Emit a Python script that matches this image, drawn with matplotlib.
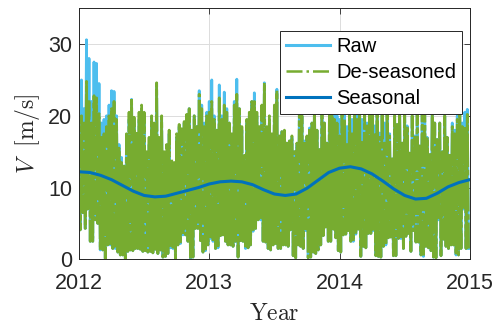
import numpy as np
import matplotlib
matplotlib.use("Agg")
import matplotlib.pyplot as plt

# weekly peak values of the raw wind speed
raw_hi_2012 = [15.5, 25, 21, 30.6, 28, 22, 27.5, 27.3, 24.5, 19, 19.5, 20, 21.5, 23.5, 23.4, 20, 16, 14.2, 13, 17,
               19.5, 22.3, 19, 17, 19.5, 21, 19.5, 14, 16, 19.5, 18, 24.5, 16, 19.5, 14, 15, 17.5, 13.5, 13, 17,
               18.5, 18, 19, 20, 21, 18, 20, 18.5, 23.5, 21.5, 19, 20.5]
raw_hi_2013 = [22, 25, 20, 18, 24.3, 20, 23.3, 21, 19, 17, 22, 25.1, 21, 18, 14, 19, 20, 22, 23.2, 20,
               18, 21, 24.6, 18, 19.5, 17, 21, 23.7, 17.1, 17.8, 17.8, 16.2, 16.5, 17, 15, 16, 22, 20, 16.5, 17,
               18.3, 19, 22, 18, 15.3, 22, 19, 16.2, 21, 23, 21, 20]
raw_hi_2014 = [19.5, 23, 21, 18.5, 22, 19.5, 23, 21, 23, 19.5, 22, 19, 21, 22, 18.6, 21, 17.6, 22, 19, 21,
               17.5, 14, 20, 18.8, 21, 16.2, 21, 18.6, 14.8, 20, 17.2, 21, 15.8, 21.5, 22, 17, 14.6, 21.5, 19, 16.7,
               19, 15, 20, 17, 14.5, 19, 18, 20, 22, 19, 20.5, 20.9]

# weekly peak values of the de-seasoned series
des_hi_2012 = [14, 20, 19, 24.8, 22, 19, 22.8, 22.5, 20.3, 17, 17.5, 18.5, 20, 21, 22, 19.5, 15.5, 13.5, 13, 17.5,
               20.5, 22.5, 19.8, 17.8, 20.5, 21.5, 20.5, 15, 17, 20, 19, 24.6, 17, 20, 15, 16, 18, 14, 13.5, 17.5,
               18.8, 18.2, 19.2, 20.2, 21, 18, 20, 18.5, 23, 21, 18.5, 20]
des_hi_2013 = [20.5, 22, 19.5, 18, 22.5, 19.5, 21.5, 20.5, 19, 17.5, 21.5, 23, 21, 18.5, 14.5, 19.5, 20.5, 22, 22, 20.5,
               18.5, 21.5, 24.6, 18.5, 20, 17.5, 21.5, 23.5, 17.2, 17.8, 18, 16.2, 16.5, 17.2, 15, 16.2, 22, 20, 16.5, 17.2,
               18.3, 19, 22, 18, 15.3, 22, 19, 16.2, 21, 22, 19.5, 19]
des_hi_2014 = [17.2, 21, 19.5, 16, 20.5, 17.5, 21, 19.5, 22, 16.6, 21, 18.6, 20.5, 21.5, 17.6, 20.5, 17, 21.5, 16.2, 20.5,
               17.2, 14, 20, 18.8, 21, 16.2, 21, 18.6, 14.8, 20, 17.2, 21, 15.8, 21.5, 22, 17, 14.6, 21.5, 19, 16.7,
               19, 15, 20, 17, 14.5, 18.5, 17.5, 19.5, 21, 18.5, 18.5, 20.2]

# weekly low values (both series)
lo_2012 = [4.1, 6.5, 4.3, 7, 2.5, 2.5, 5.5, 5, 1.3, 1.3, 0.1, 2, 2, 1.5, 1.5, 1, 0.6, 0.6, 0.1, 1.1,
           1.3, 1.2, 1.5, 1.5, 1.4, 1.1, 1.2, 1, 1.1, 0.9, 1.4, 0.8, 1.3, 0.3, 0.4, 0.8, 1.6, 1.5, 0.1, 2,
           2.2, 3.4, 3.4, 2.5, 0.1, 0.3, 4.3, 4.3, 2.6, 1, 1.2, 2]
lo_2013 = [2.9, 2.5, 1.5, 1.6, 3.3, 3.4, 2.5, 2, 2, 1.8, 2.5, 0.3, 2.6, 2.5, 1.5, 1.6, 2, 3.9, 4.3, 5.5,
           5.5, 2.5, 2.4, 1.5, 1.3, 2, 2.2, 1.5, 1.5, 2, 2, 1.8, 4.1, 0.5, 0.2, 2, 1.8, 1.5, 4, 0.2,
           0.3, 1, 0.8, 1.3, 2, 3.3, 4.5, 2.5, 2.5, 4.2, 3, 1.2]
lo_2014 = [1, 3.4, 3.5, 4, 2.5, 2.5, 3.5, 4.2, 0.4, 1.8, 1.6, 3.6, 3.6, 4, 0.5, 0.4, 0.3, 1.8, 2, 3,
           3.1, 0.5, 0.5, 2.9, 2.9, 1.5, 3.2, 3.6, 1.1, 4, 2.4, 2.4, 0.6, 0.4, 1.8, 1.6, 1.2, 0.3, 0.2, 5.5,
           0.5, 2.8, 1.8, 1.5, 2, 2, 0.6, 0.6, 1.5, 7, 1.5, 1.5]

# monthly seasonal component, Jan 2012 .. Jan 2015
seasonal = [12.2, 12.1, 11.7, 11.1, 10.3, 9.5, 8.9, 8.7, 8.8, 9.2, 9.6, 10.0,
            10.5, 10.8, 10.9, 10.8, 10.4, 9.7, 9.1, 8.9, 9.1, 9.9, 11.0, 12.1,
            12.7, 12.9, 12.6, 11.9, 10.9, 9.8, 8.9, 8.4, 8.5, 9.2, 10.1, 10.7, 11.1]

raw_hi = np.array(raw_hi_2012 + raw_hi_2013 + raw_hi_2014)
des_hi = np.array(des_hi_2012 + des_hi_2013 + des_hi_2014)
lo = np.array(lo_2012 + lo_2013 + lo_2014)

weeks = np.arange(len(lo))
t = np.empty(2 * len(lo))
t[0::2] = 2012 + weeks / 52
t[1::2] = 2012 + (weeks + 0.5) / 52

raw = np.empty_like(t)
raw[0::2] = raw_hi
raw[1::2] = lo
des = np.empty_like(t)
des[0::2] = des_hi
des[1::2] = lo

t_seas = 2012 + np.arange(len(seasonal)) / 12

plt.rcParams['font.family'] = ['Liberation Sans', 'DejaVu Sans']
plt.rcParams['mathtext.fontset'] = 'cm'

fig = plt.figure(figsize=(5.03, 3.27), dpi=100)
ax = fig.add_axes([0.157, 0.207, 0.777, 0.768])

ax.plot(t, raw, color='#4DBEEE', lw=2.0, label='Raw')
ax.plot(t, des, color='#77AC30', lw=2.0, ls=(0, (12, 1, 2, 1)), label='De-seasoned')
ax.plot(t_seas, seasonal, color='#0072BD', lw=2.2, label='Seasonal')

ax.set_xlim(2012, 2015)
ax.set_ylim(0, 35)
ax.set_xticks([2012, 2013, 2014, 2015])
ax.set_xticklabels(['2012', '2013', '2014', '2015'])
ax.set_yticks([0, 10, 20, 30])
ax.tick_params(direction='in', top=True, right=True, labelsize=15.5,
               colors='#262626', length=4, width=0.6)
ax.tick_params(axis='x', pad=10)
ax.tick_params(axis='y', pad=5)
for s in ax.spines.values():
    s.set_color('#262626')
    s.set_linewidth(0.7)
ax.grid(True, color='#dcdcdc', lw=0.7)
ax.set_axisbelow(True)

ax.set_xlabel(r'$\mathrm{Year}$', fontsize=17, color='#262626', labelpad=6)
ax.set_ylabel(r'$V\ \ [\mathrm{m/s}]$', fontsize=17, color='#262626', labelpad=4)

leg = ax.legend(loc='upper right', bbox_to_anchor=(0.98, 0.908), fontsize=14.5,
                fancybox=False, framealpha=1, edgecolor='#262626',
                handlelength=2.2, labelspacing=0.33, borderpad=0.3, handletextpad=0.3,
                borderaxespad=0)
leg.get_frame().set_linewidth(0.7)
for line in leg.get_lines():
    line.set_linewidth(2.2)
leg.get_lines()[1].set_linestyle('-.')
leg.get_lines()[1].set_linewidth(1.8)

fig.savefig('out.png', dpi=100)
